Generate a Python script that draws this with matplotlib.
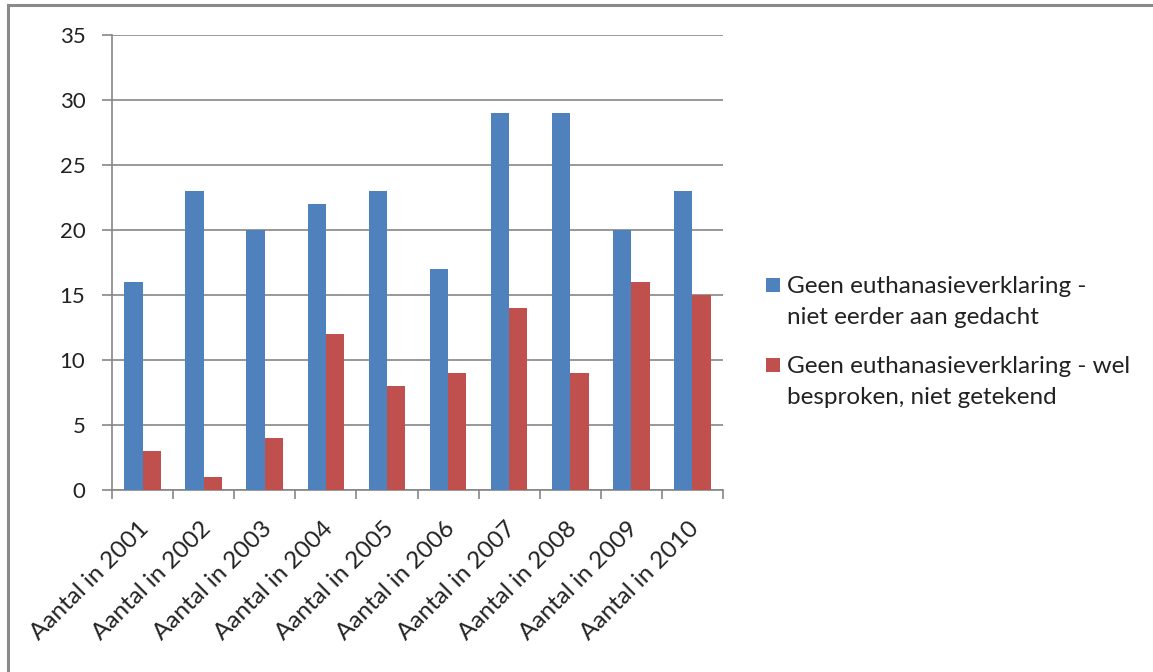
import matplotlib
matplotlib.use("Agg")
import matplotlib.pyplot as plt
import matplotlib.transforms as mtransforms
import numpy as np
from matplotlib.lines import Line2D
from matplotlib.patches import Rectangle

categories = ["Aantal in 2001", "Aantal in 2002", "Aantal in 2003", "Aantal in 2004",
              "Aantal in 2005", "Aantal in 2006", "Aantal in 2007", "Aantal in 2008",
              "Aantal in 2009", "Aantal in 2010"]
series1 = [16, 23, 20, 22, 23, 17, 29, 29, 20, 23]
series2 = [3, 1, 4, 12, 8, 9, 14, 9, 16, 15]
label1 = "Geen euthanasieverklaring -\nniet eerder aan gedacht"
label2 = "Geen euthanasieverklaring - wel\nbesproken, niet getekend"
yticks = [0, 5, 10, 15, 20, 25, 30, 35]

plt.rcParams['font.family'] = ['Lato', 'DejaVu Sans']

W, H = 1153, 672
fig = plt.figure(figsize=(W/100, H/100), dpi=100)
fig.patch.set_facecolor("white")
ax = fig.add_axes([112/W, 1-490/H, (723-112)/W, (490-35)/H])

x = np.arange(len(categories))
bw = 0.3
blue = "#4F81BD"
red = "#C0504D"
ax.bar(x - bw/2, series1, bw, color=blue, zorder=3)
ax.bar(x + bw/2, series2, bw, color=red, zorder=3)

ax.set_xlim(-0.5, len(categories) - 0.5)
ax.set_ylim(0, 35)
ax.set_yticks(yticks)
ax.set_yticklabels([str(v) for v in yticks], fontsize=16, color="#222222")
ax.yaxis.grid(True, color="#868686", linewidth=1.2, zorder=0)
ax.tick_params(axis='y', length=7.2, width=1.2, color="#868686", pad=12)

ax.set_xticks(x)
ax.set_xticklabels(categories, rotation=45, ha='right', rotation_mode='anchor',
                   fontsize=17.5, color="#222222")
ax.tick_params(axis='x', length=0, pad=20)
offset = mtransforms.ScaledTranslation(-4/100, 0, fig.dpi_scale_trans)
for lab in ax.get_xticklabels():
    lab.set_transform(lab.get_transform() + offset)
ax.set_xticks(np.arange(-0.5, len(categories)), minor=True)
ax.tick_params(axis='x', which='minor', length=6.5, width=1.2, color="#868686")

for s in ['top', 'right']:
    ax.spines[s].set_visible(False)
for s in ['left', 'bottom']:
    ax.spines[s].set_color("#868686")
    ax.spines[s].set_linewidth(1.2)

# legend drawn manually: square aligned with first text line
def px(xp, yp):
    return xp / W, 1 - yp / H

for color, label, ytop in [(blue, label1, 278), (red, label2, 358)]:
    x0, y0 = px(766, ytop + 14)
    fig.add_artist(Rectangle((x0, y0), 14 / W, 14 / H, facecolor=color,
                             edgecolor='none', transform=fig.transFigure))
    tx, ty = px(787, ytop - 2)
    fig.text(tx, ty, label, fontsize=17.5, color="#222222", va='top', ha='left',
             linespacing=1.6)

# figure border (left and top)
fig.add_artist(Line2D([7.5/W, 7.5/W], [0, 1-5/H], color="#8a8a8a", linewidth=2.2,
                      transform=fig.transFigure))
fig.add_artist(Line2D([7.5/W, 1], [1-5/H, 1-5/H], color="#8a8a8a", linewidth=2.2,
                      transform=fig.transFigure))

fig.savefig("out.png", dpi=100, facecolor="white")
